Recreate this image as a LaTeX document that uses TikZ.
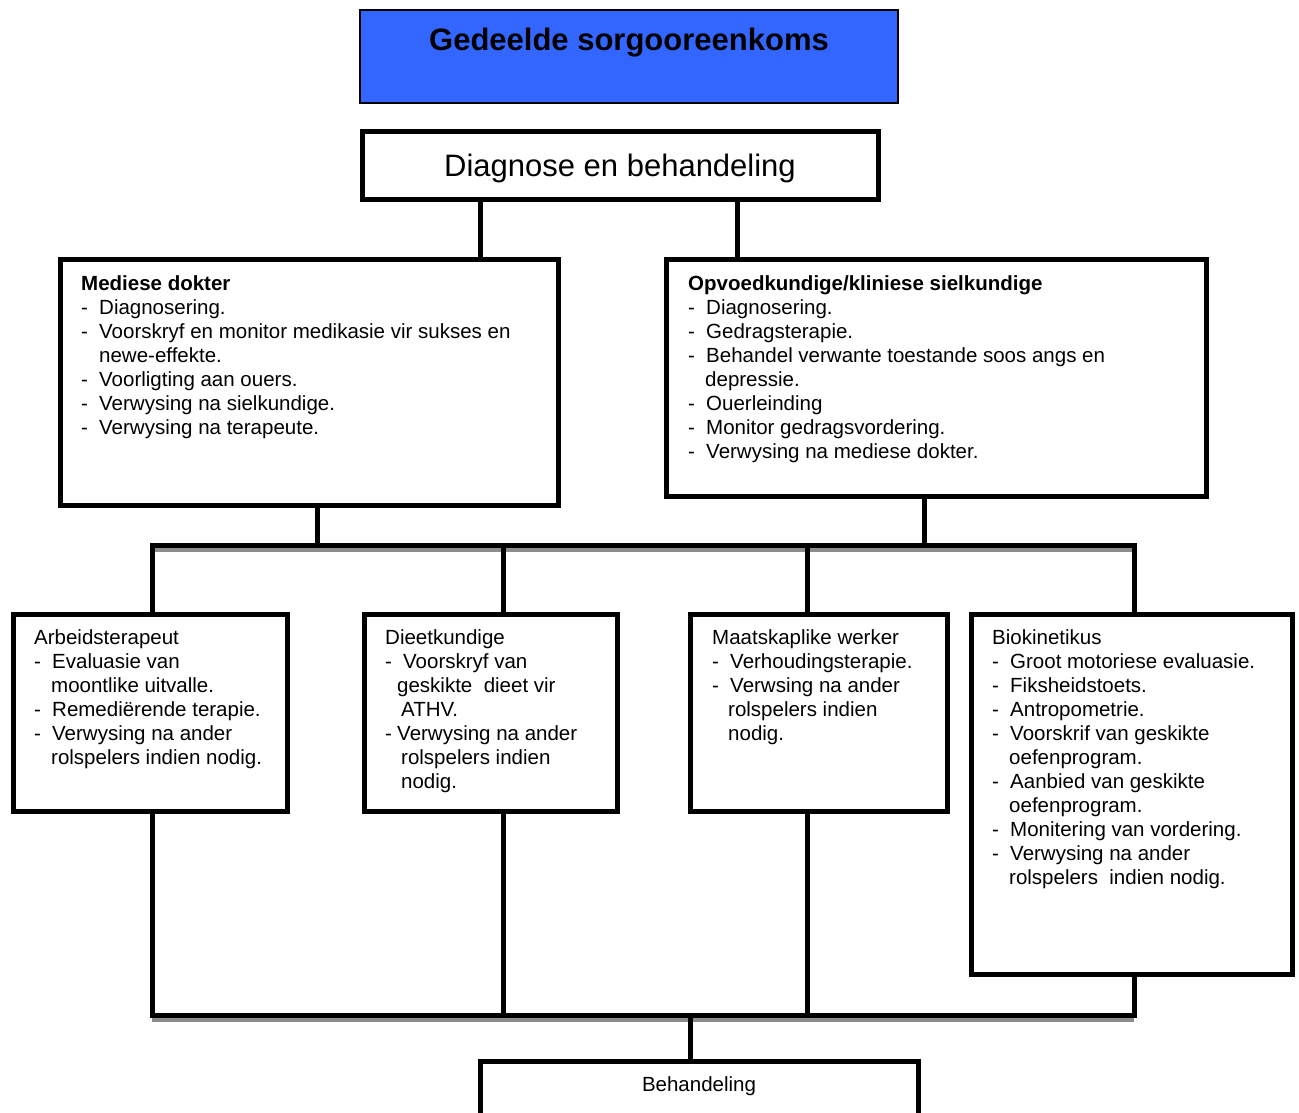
\documentclass[tikz,border=0pt]{standalone}
\usepackage{fontspec}
\setmainfont{Liberation Sans}
\definecolor{titleblue}{RGB}{51,102,255}
\newcommand{\dsh}[1][18pt]{\makebox[#1][l]{-}}
\newcommand{\myind}[1]{\hspace*{#1}}
\begin{document}
\begin{tikzpicture}[x=1pt,y=-1pt,
  box/.style={draw=black, line width=5pt, fill=white, inner sep=0pt, outer sep=0pt, anchor=north west},
  txt/.style={anchor=north west, inner sep=0pt, align=left, font=\fontsize{20.5}{24}\selectfont},
  conn/.style={line width=5pt, black},
  greybar/.style={line width=4.5pt, black!45}]
\useasboundingbox (0,0) rectangle (1299,1113);
\clip (0,0) rectangle (1299,1113);
\fill[white] (0,0) rectangle (1299,1113);

% boxes
\node[box, line width=1.6pt, fill=titleblue, minimum width=538pt, minimum height=93pt] (title) at (360,10) {};
\node[box, minimum width=516pt, minimum height=67pt] (diag) at (362,132) {};
\node[box, minimum width=498pt, minimum height=246pt] (med) at (60,259) {};
\node[box, minimum width=540pt, minimum height=237pt] (opv) at (666,259) {};
\node[box, minimum width=274pt, minimum height=197pt] (arb) at (13,614) {};
\node[box, minimum width=253pt, minimum height=197pt] (die) at (364,614) {};
\node[box, minimum width=257pt, minimum height=197pt] (maa) at (690,614) {};
\node[box, minimum width=321pt, minimum height=360pt] (bio) at (971,614) {};
\node[box, minimum width=438pt, minimum height=70pt] (beh) at (480,1061) {};

% connector x positions
\coordinate (cA) at (480,0);
\coordinate (cB) at (737,0);
\coordinate (cM) at (317,0);
\coordinate (cO) at (924,0);
\coordinate (c1) at (152,0);
\coordinate (c2) at (503,0);
\coordinate (c3) at (807,0);
\coordinate (c4) at (1134,0);
\coordinate (cH) at (690,0);
\coordinate (barL) at (152,545);
\coordinate (barR) at (1134,545);
\coordinate (bbL) at (152,1015);
\coordinate (bbR) at (1134,1015);

% connectors top
\draw[conn] (diag.south -| cA) -- (med.north -| cA);
\draw[conn] (diag.south -| cB) -- (opv.north -| cB);
\draw[greybar] ([yshift=-4.75pt]barL) -- ([yshift=-4.75pt]barR);
\draw[conn] (med.south -| cM) -- (barL -| cM);
\draw[conn] (opv.south -| cO) -- (barL -| cO);
\draw[conn] (arb.north -| c1) -- (barL) -- (barR) -- (bio.north -| c4);
\draw[conn] (barL -| c2) -- (die.north -| c2);
\draw[conn] (barL -| c3) -- (maa.north -| c3);

% connectors bottom
\draw[greybar] ([yshift=-4.75pt]bbL) -- ([yshift=-4.75pt]bbR);
\draw[conn] (arb.south -| c1) -- (bbL) -- (bbR) -- (bio.south -| c4);
\draw[conn] (die.south -| c2) -- (bbL -| c2);
\draw[conn] (maa.south -| c3) -- (bbL -| c3);
\draw[conn] (bbL -| cH) -- (beh.north -| cH);

% texts
\node[anchor=base, inner sep=0pt, font=\bfseries\fontsize{31}{36}\selectfont] (titletxt) at (629,51) {Gedeelde sorgooreenkoms};
\node[anchor=base, inner sep=0pt, font=\fontsize{31}{36}\selectfont] (diagtxt) at (620,176) {Diagnose en behandeling};
\node[anchor=base, inner sep=0pt, font=\fontsize{20.5}{24}\selectfont] (behtxt) at (699,1091) {Behandeling};

\node[txt] (medtxt) at (81,273.2) {\strut\textbf{Mediese dokter}\\
\dsh Diagnosering.\\
\dsh Voorskryf en monitor medikasie vir sukses en\\
\myind{18pt}newe-effekte.\\
\dsh Voorligting aan ouers.\\
\dsh Verwysing na sielkundige.\\
\dsh Verwysing na terapeute.};

\node[txt] (opvtxt) at (688,273.2) {\strut\textbf{Opvoedkundige/kliniese sielkundige}\\
\dsh Diagnosering.\\
\dsh Gedragsterapie.\\
\dsh Behandel verwante toestande soos angs en\\
\myind{17pt}depressie.\\
\dsh Ouerleinding\\
\dsh Monitor gedragsvordering.\\
\dsh Verwysing na mediese dokter.};

\node[txt] (arbtxt) at (34,627.2) {\strut Arbeidsterapeut\\
\dsh Evaluasie van\\
\myind{17pt}moontlike uitvalle.\\
\dsh Remediërende terapie.\\
\dsh Verwysing na ander\\
\myind{17pt}rolspelers indien nodig.};

\node[txt] (dietxt) at (385,627.2) {\strut Dieetkundige\\
\dsh Voorskryf van\\
\myind{12pt}geskikte\ \ dieet vir\\
\myind{16pt}ATHV.\\
\dsh[12pt]Verwysing na ander\\
\myind{16pt}rolspelers indien\\
\myind{16pt}nodig.};

\node[txt] (maatxt) at (712,627.2) {\strut Maatskaplike werker\\
\dsh Verhoudingsterapie.\\
\dsh Verwsing na ander\\
\myind{16pt}rolspelers indien\\
\myind{16pt}nodig.};

\node[txt] (biotxt) at (992,627.2) {\strut Biokinetikus\\
\dsh Groot motoriese evaluasie.\\
\dsh Fiksheidstoets.\\
\dsh Antropometrie.\\
\dsh Voorskrif van geskikte\\
\myind{17pt}oefenprogram.\\
\dsh Aanbied van geskikte\\
\myind{17pt}oefenprogram.\\
\dsh Monitering van vordering.\\
\dsh Verwysing na ander\\
\myind{17pt}rolspelers\ \ indien nodig.};
\end{tikzpicture}
\end{document}
